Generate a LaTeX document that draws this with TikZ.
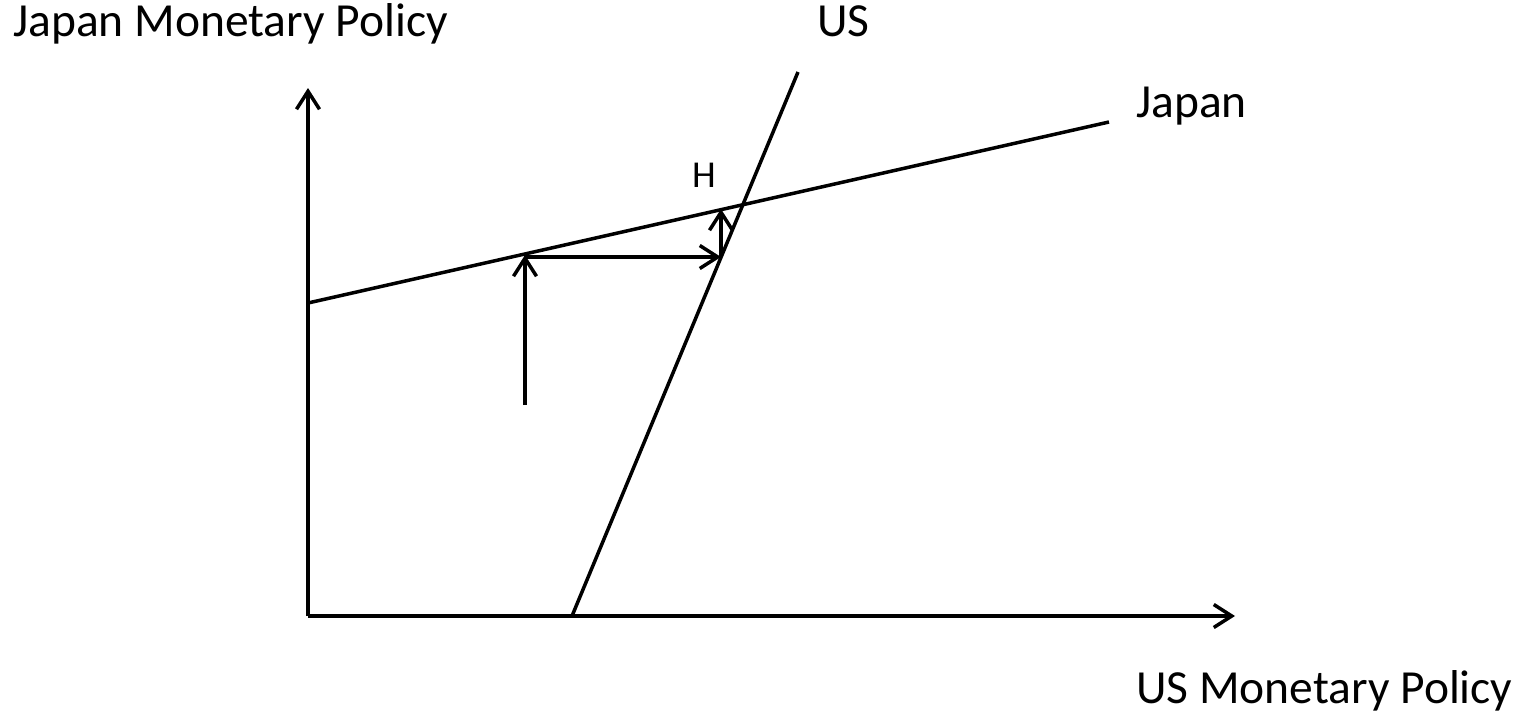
\documentclass[tikz,border=0pt]{standalone}
\usepackage{fontspec}
\setmainfont{Carlito}
\usetikzlibrary{arrows.meta}
\begin{document}
\begin{tikzpicture}[x=1pt,y=-1pt,
  curve/.style={line width=3.5pt},
  arr/.style={line width=3.5pt,-{Straight Barb[length=18pt,width=23pt]}},
  lbl/.style={inner sep=0pt,anchor=base west,font=\fontsize{47.5}{57}\selectfont},
  smalllbl/.style={inner sep=0pt,anchor=base west,font=\fontsize{38}{45}\selectfont}]
\useasboundingbox (0,0) rectangle (1517,717);
% coordinates
\coordinate (O) at (308,616);
\coordinate (ytip) at (308,88);
\coordinate (xtip) at (1235,616);
\coordinate (jL) at (308,303);
\coordinate (jR) at (1109,122);
\coordinate (uB) at (572,616);
\coordinate (uT) at (798,72);
\coordinate (a0) at (525,405);
\coordinate (a1) at (525,255);
\coordinate (a2) at (721,257);
\coordinate (a3) at (721,209);
% axes
\draw[arr] (O) -- (ytip);
\draw[arr] (O) -- (xtip);
% reaction lines
\draw[curve] (jL) -- (jR);
\draw[curve] (uB) -- (uT);
% adjustment arrows
\draw[arr] (a0) -- (a1);
\draw[arr] (a1 |- a2) -- (a2);
\draw[arr] (a2) -- (a3);
% labels
\node[lbl] (ylab) at (13,37) {Japan Monetary Policy};
\node[lbl] (uslab) at (817,37) {US};
\node[lbl] (jplab) at (1136,117) {Japan};
\node[lbl] (xlab) at (1136,703) {US Monetary Policy};
\node[smalllbl] (hlab) at (692,187) {H};
\end{tikzpicture}
\end{document}
